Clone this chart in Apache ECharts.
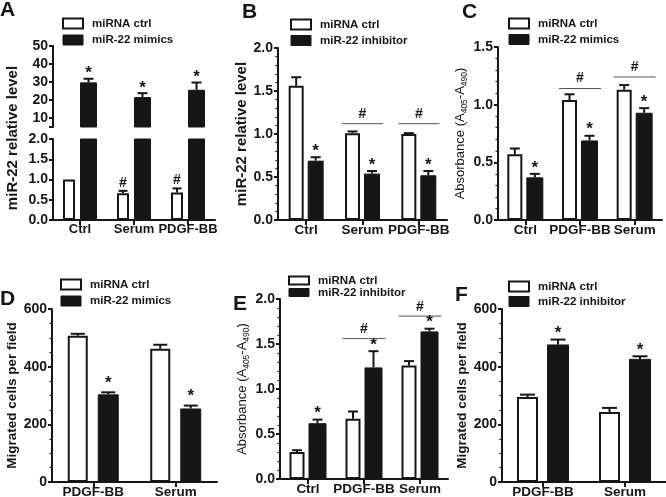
<!DOCTYPE html>
<html><head><meta charset="utf-8">
<script src="https://cdn.jsdelivr.net/npm/echarts@6/dist/echarts.min.js"></script>
<style>html,body{margin:0;padding:0;background:#fff}#c{width:666px;height:497px}</style>
</head><body><div id="c"></div>
<script>
// ---------------- DATA ----------------
const catsA = ['Ctrl', 'Serum', 'PDGF-BB'];
const ctrlA = [1.0, 0.66, 0.68];
const ctrlErrA = [0, 0.06, 0.10];
const mimicsA = [29.8, 21.6, 25.7];
const mimicsErrA = [2.0, 2.2, 4.0];
const ctrlMarksA = ['', '#', '#'];
const mimicsMarksA = ['*', '*', '*'];
const ticksAUpper = [10, 20, 30, 40, 50];

const catsB = ['Ctrl', 'Serum', 'PDGF-BB'];
const ctrlB = [1.56, 1.01, 1.00];
const ctrlErrB = [0.10, 0.02, 0.01];
const inhB = [0.69, 0.54, 0.52];
const inhErrB = [0.04, 0.03, 0.05];
const inhMarksB = ['*', '*', '*'];
const hashLineB = [null, 1.12, 1.12];

const catsC = ['Ctrl', 'PDGF-BB', 'Serum'];
const ctrlC = [0.57, 1.04, 1.13];
const ctrlErrC = [0.05, 0.05, 0.04];
const mimicsC = [0.37, 0.69, 0.93];
const mimicsErrC = [0.03, 0.04, 0.04];
const mimicsMarksC = ['*', '*', '*'];
const hashLineC = [null, 1.14, 1.24];

const catsD = ['PDGF-BB', 'Serum'];
const ctrlD = [507, 462];
const ctrlErrD = [7, 14];
const mimicsD = [304, 255];
const mimicsErrD = [7, 10];
const mimicsMarksD = ['*', '*'];

const catsE = ['Ctrl', 'PDGF-BB', 'Serum'];
const ctrlE = [0.30, 0.67, 1.26];
const ctrlErrE = [0.02, 0.08, 0.05];
const inhE = [0.62, 1.24, 1.64];
const inhErrE = [0.04, 0.18, 0.03];
const inhMarksE = ['*', '*', '*'];
const hashLineE = [null, 1.56, 1.81];

const catsF = ['PDGF-BB', 'Serum'];
const ctrlF = [295, 243];
const ctrlErrF = [8, 14];
const inhF = [477, 427];
const inhErrF = [17, 9];
const inhMarksF = ['*', '*'];

const NAME_CTRL = 'miRNA ctrl';
const NAME_MIM = 'miR-22 mimics';
const NAME_INH = 'miR-22 inhibitor';

// ---------------- STYLE / BUILDERS ----------------
const INK = '#161616';
const FONT = "'Liberation Sans', Arial, Helvetica, sans-serif";
const option = {animation: false, backgroundColor: '#fff', grid: [], xAxis: [], yAxis: [], series: [], legend: [], graphic: []};

function addGrid(g) {
  const gi = option.grid.length;
  option.grid.push({left: g.left, top: g.top, width: g.width, height: g.height, containLabel: false, outerBoundsMode: 'none'});
  const showX = g.showX !== false;
  option.xAxis.push({
    type: 'category', gridIndex: gi, data: g.cats, show: showX,
    axisLine: {show: showX, onZero: false, lineStyle: {color: INK, width: 2}},
    axisTick: {show: showX, alignWithLabel: true, length: 5, lineStyle: {color: INK, width: 2}},
    axisLabel: {show: showX, color: INK, fontFamily: FONT, fontWeight: 'bold', fontSize: g.xFont || 13.5, margin: 3, interval: 0, hideOverlap: false},
    splitLine: {show: false}
  });
  const y = {
    type: 'value', gridIndex: gi, min: g.min, max: g.max, interval: g.interval,
    splitLine: {show: false},
    axisLine: {show: true, onZero: false, lineStyle: {color: INK, width: 2}},
    axisTick: {show: true, length: 4, lineStyle: {color: INK, width: 2}},
    minorTick: {show: !!g.minor, splitNumber: g.minor || 5, length: 2.5, lineStyle: {color: INK, width: 1.2}},
    axisLabel: {color: INK, fontFamily: FONT, fontWeight: 'bold', fontSize: 14, margin: 5, formatter: g.fmt}
  };
  if (g.name) {
    y.name = g.name; y.nameLocation = 'middle'; y.nameGap = g.nameGap; y.nameTextStyle = g.nameStyle;
  }
  if (g.tickValues) {
    y.axisTick.customValues = g.tickValues;
    y.axisLabel.customValues = g.labelValues;
  }
  option.yAxis.push(y);
  return gi;
}

function addBars(gi, b, ctrl, trt, trtName) {
  const barGap = (b.gap / b.wW * 100) + '%';
  option.series.push({type: 'bar', name: NAME_CTRL, xAxisIndex: gi, yAxisIndex: gi, data: ctrl, barWidth: b.wW, barGap: barGap, clip: true, silent: true,
    itemStyle: {color: '#fff', borderColor: INK, borderWidth: 2}});
  option.series.push({type: 'bar', name: trtName, xAxisIndex: gi, yAxisIndex: gi, data: trt, barWidth: b.wB, barGap: barGap, clip: true, silent: true,
    itemStyle: {color: INK, borderColor: INK, borderWidth: 1}});
  const total = b.wW + b.gap + b.wB;
  return {offW: -total / 2 + b.wW / 2, offB: total / 2 - b.wB / 2};
}

function markText(t, x, y, size) {
  return {type: 'text', x: x, y: y, z2: 10,
    style: {text: t, fill: INK, font: 'bold ' + size + 'px ' + FONT, align: 'center', textAlign: 'center', verticalAlign: 'middle', textVerticalAlign: 'middle'}};
}

function addErr(gi, vals, errs, marks, off, o) {
  const data = vals.map((v, i) => [i, v, errs[i]]);
  option.series.push({type: 'custom', xAxisIndex: gi, yAxisIndex: gi, data: data, silent: true, z: 3,
    renderItem: function (params, api) {
      const i = api.value(0), v = api.value(1), e = api.value(2);
      const p = api.coord([i, v]);
      const x = p[0] + off;
      const yTop = api.coord([i, v + e])[1];
      const ch = [];
      if (e > 0) {
        ch.push({type: 'line', shape: {x1: x, y1: p[1], x2: x, y2: yTop}, style: {stroke: INK, lineWidth: 2}});
        ch.push({type: 'line', shape: {x1: x - o.cap / 2, y1: yTop, x2: x + o.cap / 2, y2: yTop}, style: {stroke: INK, lineWidth: 2}});
      }
      const m = marks ? marks[params.dataIndex] : '';
      if (m === '*') ch.push(markText('*', x, yTop - o.starGap, 17));
      if (m === '#') ch.push(markText('#', x, yTop - o.hashGap, 14));
      return {type: 'group', children: ch};
    }
  });
}

function addHash(gi, ys, off, b, o) {
  const data = [];
  ys.forEach((y, i) => { if (y != null) data.push([i, y]); });
  option.series.push({type: 'custom', xAxisIndex: gi, yAxisIndex: gi, data: data, silent: true, z: 3,
    renderItem: function (params, api) {
      const p = api.coord([api.value(0), api.value(1)]);
      const x1 = p[0] + off.offW - b.wW / 2 - o.ext;
      const x2 = p[0] + off.offB + b.wB / 2 + o.ext;
      return {type: 'group', children: [
        {type: 'line', shape: {x1: x1, y1: p[1], x2: x2, y2: p[1]}, style: {stroke: '#555', lineWidth: 1}},
        markText('#', (x1 + x2) / 2, p[1] - o.hashGap, 14)
      ]};
    }
  });
}

function addLegend(left, top, trtName, gap, ih, lh) {
  option.legend.push({orient: 'vertical', left: left, top: top, padding: 0, itemWidth: 20, itemHeight: ih, itemGap: gap, icon: 'rect', selectedMode: false,
    textStyle: {fontFamily: FONT, fontWeight: 'bold', fontSize: 11.5, color: INK, lineHeight: lh, padding: [0, 0, 0, 4]},
    data: [
      {name: NAME_CTRL, itemStyle: {color: '#fff', borderColor: INK, borderWidth: 2}},
      {name: trtName, itemStyle: {color: INK, borderColor: INK, borderWidth: 1}}
    ]});
}

function letter(t, x, y) {
  option.graphic.push({type: 'text', left: x, top: y, style: {text: t, fill: INK, font: 'bold 21px ' + FONT}});
}

const fmt1 = v => v.toFixed(1);
const fmt0 = v => String(Math.round(v));
const boldName = size => ({fontFamily: FONT, fontWeight: 'bold', fontSize: size, color: INK});
const absName = {fontFamily: FONT, fontSize: 13, color: INK,
  rich: {s: {fontFamily: FONT, fontSize: 8.5, color: INK, verticalAlign: 'bottom', padding: [9, 0, 0, 0]}}};
const ABS_TITLE = 'Absorbance (A{s|405}-A{s|490})';

// ---------------- PANEL A (broken axis) ----------------
const barA = {wW: 12, wB: 17, gap: 5};
const gAU = addGrid({left: 53, top: 46, width: 162, height: 81, cats: catsA, showX: false, min: 5, max: 50, interval: 5,
  tickValues: [5].concat(ticksAUpper), labelValues: ticksAUpper, fmt: fmt0});
const oAU = addBars(gAU, barA, ctrlA, mimicsA, NAME_MIM);
addErr(gAU, mimicsA, mimicsErrA, mimicsMarksA, oAU.offB, {cap: 10, starGap: 5, hashGap: 8});
const gAL = addGrid({left: 53, top: 139, width: 162, height: 81, cats: catsA, min: 0, max: 2, interval: 0.5, fmt: fmt1, xFont: 13});
const oAL = addBars(gAL, barA, ctrlA, mimicsA, NAME_MIM);
addErr(gAL, ctrlA, ctrlErrA, ctrlMarksA, oAL.offW, {cap: 9, starGap: 5, hashGap: 8});
addLegend(62, 17, NAME_MIM, 3.5, 10, 13);
option.graphic.push({type: 'text', x: 13, y: 138, rotation: Math.PI / 2,
  style: {text: 'miR-22 relative level', fill: INK, font: 'bold 15px ' + FONT, align: 'center', textAlign: 'center', verticalAlign: 'middle', textVerticalAlign: 'middle'}});
letter('A', 0, 0);

// ---------------- PANEL B ----------------
const barB = {wW: 15, wB: 16, gap: 4};
const gB = addGrid({left: 278, top: 48, width: 169, height: 172, cats: catsB, min: 0, max: 2, interval: 0.5, minor: 5, fmt: fmt1,
  name: 'miR-22 relative level', nameGap: 18, nameStyle: boldName(15)});
const oB = addBars(gB, barB, ctrlB, inhB, NAME_INH);
addErr(gB, ctrlB, ctrlErrB, null, oB.offW, {cap: 10, starGap: 6, hashGap: 10});
addErr(gB, inhB, inhErrB, inhMarksB, oB.offB, {cap: 10, starGap: 6, hashGap: 10});
addHash(gB, hashLineB, oB, barB, {ext: 3, hashGap: 10});
addLegend(290, 18, NAME_INH, 3, 10, 13);
letter('B', 242, 2);

// ---------------- PANEL C ----------------
const barC = {wW: 15, wB: 17, gap: 4};
const gC = addGrid({left: 498, top: 47, width: 164, height: 173, cats: catsC, min: 0, max: 1.5, interval: 0.5, minor: 5, fmt: fmt1,
  name: ABS_TITLE, nameGap: 22, nameStyle: absName});
const oC = addBars(gC, barC, ctrlC, mimicsC, NAME_MIM);
addErr(gC, ctrlC, ctrlErrC, null, oC.offW, {cap: 10, starGap: 6, hashGap: 10});
addErr(gC, mimicsC, mimicsErrC, mimicsMarksC, oC.offB, {cap: 10, starGap: 6, hashGap: 10});
addHash(gC, hashLineC, oC, barC, {ext: 3, hashGap: 10});
addLegend(508, 17, NAME_MIM, 3, 10, 13);
letter('C', 462, 2);

// ---------------- PANEL D ----------------
const barD = {wW: 20, wB: 21, gap: 10};
const gD = addGrid({left: 52, top: 309, width: 165, height: 173, cats: catsD, min: 0, max: 600, interval: 200, minor: 4, fmt: fmt0,
  name: 'Migrated cells per field', nameGap: 33, nameStyle: boldName(13.5)});
const oD = addBars(gD, barD, ctrlD, mimicsD, NAME_MIM);
addErr(gD, ctrlD, ctrlErrD, null, oD.offW, {cap: 14, starGap: 9, hashGap: 10});
addErr(gD, mimicsD, mimicsErrD, mimicsMarksD, oD.offB, {cap: 14, starGap: 9, hashGap: 10});
addLegend(60, 278, NAME_MIM, 3.5, 10, 13);
letter('D', 0, 289);

// ---------------- PANEL E ----------------
const barE = {wW: 15, wB: 18, gap: 4};
const gE = addGrid({left: 280, top: 299, width: 168, height: 180, cats: catsE, min: 0, max: 2, interval: 0.5, minor: 5, fmt: fmt1,
  name: ABS_TITLE, nameGap: 22, nameStyle: absName});
const oE = addBars(gE, barE, ctrlE, inhE, NAME_INH);
addErr(gE, ctrlE, ctrlErrE, null, oE.offW, {cap: 10, starGap: 6, hashGap: 10});
addErr(gE, inhE, inhErrE, inhMarksE, oE.offB, {cap: 10, starGap: 6, hashGap: 10});
addHash(gE, hashLineE, oE, barE, {ext: 3, hashGap: 9});
addLegend(288, 274, NAME_INH, -1, 8, 13);
letter('E', 233, 294);

// ---------------- PANEL F ----------------
const barF = {wW: 21, wB: 22, gap: 9};
const gF = addGrid({left: 502, top: 309, width: 164, height: 173, cats: catsF, min: 0, max: 600, interval: 200, minor: 4, fmt: fmt0,
  name: 'Migrated cells per field', nameGap: 26, nameStyle: boldName(13.5)});
const oF = addBars(gF, barF, ctrlF, inhF, NAME_INH);
addErr(gF, ctrlF, ctrlErrF, null, oF.offW, {cap: 15, starGap: 6, hashGap: 10});
addErr(gF, inhF, inhErrF, inhMarksF, oF.offB, {cap: 15, starGap: 6, hashGap: 10});
addLegend(508, 280, NAME_INH, 2, 10, 13);
letter('F', 455, 285);

const chart = echarts.init(document.getElementById('c'), null, {renderer: 'canvas'});
chart.setOption(option);
</script>
</body></html>
